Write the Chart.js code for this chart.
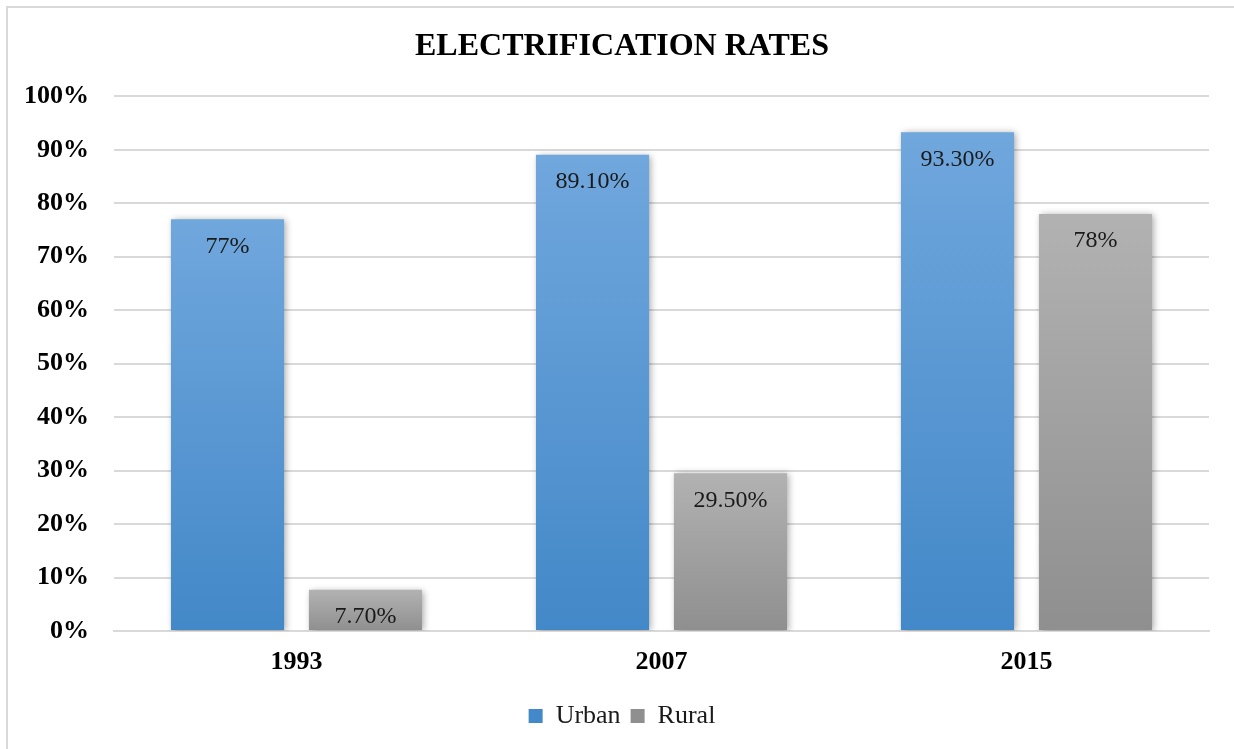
<!DOCTYPE html>
<html>
<head>
<meta charset="utf-8">
<script src="https://cdn.jsdelivr.net/npm/chart.js@4.4.1/dist/chart.umd.min.js"></script>
<style>
    html, body { margin: 0; padding: 0; background: #fff; overflow: hidden; }
    #frame {
        position: absolute; left: 6px; top: 6px;
        width: 1300px; height: 800px;
        border-left: 2px solid #d9d9d9;
        border-top: 2px solid #d9d9d9;
    }
    #wrap { position: absolute; left: 0; top: 0; width: 1234px; height: 749px; }
</style>
</head>
<body>
<div id="frame"></div>
<div id="wrap"><canvas id="rates"></canvas></div>
<script>
/*jshint esversion: 6 */
var years = ["1993", "2007", "2015"];
var urban = [77, 89.1, 93.3];
var rural = [7.7, 29.5, 78];
var urbanLabels = ["77%", "89.10%", "93.30%"];
var ruralLabels = ["7.70%", "29.50%", "78%"];

var serif = "'Liberation Serif', 'Times New Roman', serif";

// colour pairs: top of bar, bottom of bar
var blue = ['#70a7dd', '#4388c8'];
var grey = ['#b2b2b2', '#8f8f8f'];

function barFill(pair) {
    return function(ctx) {
        var chart = ctx.chart;
        if (!chart.chartArea || ctx.dataIndex === undefined) {
            return pair[1];
        }
        var y = chart.scales.y;
        var v = ctx.dataset.data[ctx.dataIndex];
        var top = y.getPixelForValue(v);
        var bottom = y.getPixelForValue(0);
        var g = chart.ctx.createLinearGradient(0, top, 0, bottom);
        g.addColorStop(0, pair[0]);
        g.addColorStop(1, pair[1]);
        return g;
    };
}

// soft shadow under the bars
var barShadow = {
    id: 'barShadow',
    beforeDatasetsDraw: function(chart) {
        var c = chart.ctx;
        c.save();
        c.shadowColor = 'rgba(0,0,0,0.35)';
        c.shadowBlur = 7;
        c.shadowOffsetX = 2;
        c.shadowOffsetY = 1;
    },
    afterDatasetsDraw: function(chart) {
        chart.ctx.restore();
    }
};

// value labels inside the top of each bar
var valueLabels = {
    id: 'valueLabels',
    afterDatasetsDraw: function(chart) {
        var c = chart.ctx;
        var texts = [urbanLabels, ruralLabels];
        c.save();
        c.font = "24px " + serif;
        c.fillStyle = '#1a1a1a';
        c.textAlign = 'center';
        c.textBaseline = 'middle';
        chart.data.datasets.forEach(function(ds, i) {
            chart.getDatasetMeta(i).data.forEach(function(bar, j) {
                c.fillText(texts[i][j], bar.x, bar.y + 27);
            });
        });
        c.restore();
    }
};

var ctx = document.getElementById("rates").getContext("2d");
var chart = new Chart(ctx, {
    type: 'bar',
    data: {
        labels: years,
        datasets: [{
            label: 'Urban',
            data: urban,
            backgroundColor: barFill(blue),
            legendColor: blue[1]
        }, {
            label: 'Rural',
            data: rural,
            backgroundColor: barFill(grey),
            legendColor: grey[1]
        }]
    },
    options: {
        responsive: true,
        maintainAspectRatio: false,
        animation: false,
        categoryPercentage: 0.756,
        barPercentage: 0.82,
        layout: { padding: { left: 10, right: 0, top: 0, bottom: 10 } },
        plugins: {
            tooltip: { enabled: false },
            title: {
                display: true,
                text: 'ELECTRIFICATION RATES',
                color: '#000',
                font: { family: serif, size: 32, weight: 'bold' },
                padding: { top: 28, bottom: 30 }
            },
            legend: {
                position: 'bottom',
                labels: {
                    color: '#1a1a1a',
                    font: { family: serif, size: 26 },
                    boxWidth: 14,
                    boxHeight: 14,
                    padding: 10,
                    generateLabels: function(chart) {
                        var items = Chart.defaults.plugins.legend.labels.generateLabels(chart);
                        items.forEach(function(it, i) {
                            it.fillStyle = chart.data.datasets[i].legendColor;
                            it.strokeStyle = chart.data.datasets[i].legendColor;
                            it.lineWidth = 0;
                        });
                        return items;
                    }
                }
            }
        },
        scales: {
            x: {
                grid: { display: false, drawTicks: false },
                border: { display: true, color: '#d9d9d9', width: 2 },
                ticks: {
                    color: '#000',
                    padding: 16,
                    font: { family: serif, size: 26, weight: 'bold' }
                },
                afterFit: function(scale) { scale.height = 62; }
            },
            y: {
                min: 0,
                max: 100,
                grid: { color: '#d9d9d9', lineWidth: 2, drawTicks: false },
                border: { display: false },
                ticks: {
                    stepSize: 10,
                    color: '#000',
                    padding: 25,
                    font: { family: serif, size: 26, weight: 'bold' },
                    callback: function(v) { return v + '%'; }
                },
                afterFit: function(scale) { scale.width = 104; }
            },
            // empty right-hand margin so the plot ends where the reference does
            yRight: {
                position: 'right',
                display: true,
                grid: { display: false, drawTicks: false },
                border: { display: false },
                ticks: { display: false },
                afterFit: function(scale) { scale.width = 25; }
            }
        }
    },
    plugins: [barShadow, valueLabels]
});
</script>
</body>
</html>
